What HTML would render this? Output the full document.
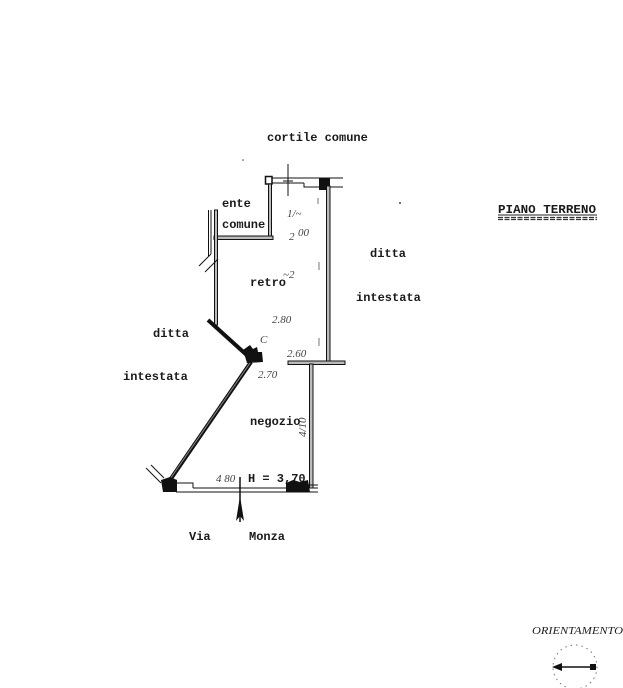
<!DOCTYPE html>
<html><head><meta charset="utf-8"><style>
html,body{margin:0;padding:0;background:#fff;}
svg{display:block;}
.t{font-family:"Liberation Mono",monospace;font-size:12px;font-weight:bold;fill:#1a1a1a;}
.h{font-family:"Liberation Serif",serif;font-style:italic;font-size:11px;fill:#444;}
</style></head><body>
<svg width="623" height="688" viewBox="0 0 623 688" xmlns="http://www.w3.org/2000/svg">
<rect width="623" height="688" fill="#fff"/>
<!-- labels -->
<text class="t" x="267" y="141">cortile comune</text>
<text class="t" x="222" y="207">ente</text>
<text class="t" x="222" y="228">comune</text>
<text class="t" x="250" y="286">retro</text>
<text class="t" x="370" y="257">ditta</text>
<text class="t" x="356" y="301">intestata</text>
<text class="t" x="153" y="337">ditta</text>
<text class="t" x="123" y="380">intestata</text>
<text class="t" x="250" y="425">negozio</text>
<text class="t" x="248" y="482">H = 3,70</text>
<text class="t" x="189" y="540">Via</text>
<text class="t" x="249" y="540">Monza</text>
<text class="t" x="498" y="213" textLength="98" lengthAdjust="spacingAndGlyphs">PIANO TERRENO</text>
<line x1="498" y1="215" x2="597" y2="215" stroke="#222" stroke-width="1"/>
<line x1="498" y1="217.5" x2="597" y2="217.5" stroke="#333" stroke-width="1.2" stroke-dasharray="5,1.5"/>
<line x1="498" y1="219.5" x2="597" y2="219.5" stroke="#333" stroke-width="1.2" stroke-dasharray="5,1.5"/>
<text x="532" y="634" font-family="Liberation Serif,serif" font-style="italic" font-size="10" fill="#222" textLength="91" lengthAdjust="spacingAndGlyphs">ORIENTAMENTO</text>

<!-- handwritten dims -->
<text class="h" x="289" y="240" font-size="13">2</text><text class="h" x="298" y="236" font-size="9">00</text>
<text class="h" x="287" y="217" font-size="9">1/~</text>
<text class="h" x="272" y="323">2.80</text>
<text class="h" x="287" y="357" font-size="12">2.60</text>
<text class="h" x="258" y="378">2.70</text>
<text class="h" x="216" y="482" font-size="12">4 80</text>
<text class="h" x="0" y="0" font-size="11" transform="translate(306,437) rotate(-90)">4/10</text>
<text class="h" x="283" y="278" font-size="9">~2</text>
<text class="h" x="260" y="343" font-size="9">C</text>
<line x1="318" y1="198" x2="318" y2="204" stroke="#777"/>
<line x1="319" y1="262" x2="319" y2="270" stroke="#777"/>
<line x1="319" y1="338" x2="319" y2="346" stroke="#777"/>
<circle cx="400" cy="203" r="1" fill="#444"/>
<circle cx="243" cy="160" r="0.8" fill="#444"/>

<g stroke="#111" fill="none" stroke-width="1">
<!-- top wall -->
<rect x="265.5" y="176.5" width="6.5" height="7.5" stroke-width="1.5" fill="#fff"/>
<line x1="272" y1="178" x2="343" y2="178"/>
<line x1="272" y1="183" x2="304" y2="183"/>
<polyline points="304,183 304,187 320,187"/>
<line x1="330" y1="187" x2="343" y2="187"/>
<line x1="288" y1="164" x2="288" y2="196"/>
<line x1="283" y1="181" x2="293" y2="181"/>
</g>
<rect x="319" y="178" width="11" height="12" fill="#111"/>

<!-- upper left room walls -->
<rect x="268.5" y="184" width="3" height="55" fill="#bbb" stroke="#111" stroke-width="1"/>
<rect x="214" y="236" width="59" height="3.5" fill="#bbb" stroke="#111" stroke-width="1"/>
<rect x="214.5" y="210" width="3" height="115" fill="#bbb" stroke="#111" stroke-width="1"/>
<line x1="208.5" y1="210" x2="208.5" y2="256" stroke="#111"/>
<line x1="211" y1="210" x2="211" y2="254" stroke="#111"/>
<line x1="199" y1="266" x2="211" y2="254" stroke="#111"/>
<line x1="205" y1="272" x2="218" y2="259" stroke="#111"/>

<!-- diagonal upper -->
<line x1="208" y1="320" x2="250" y2="358" stroke="#111" stroke-width="4"/>
<polygon points="243,350 250,345 253,349 257,347 258,352 262,352 263,362 247,363" fill="#111"/>
<!-- diagonal lower -->
<line x1="251" y1="362" x2="168" y2="483" stroke="#111" stroke-width="4"/>
<line x1="250" y1="363" x2="168" y2="482" stroke="#888" stroke-width="1"/>

<!-- right wall retro -->
<rect x="326.5" y="186" width="3.5" height="176" fill="#bbb" stroke="#111" stroke-width="1"/>
<rect x="288" y="361" width="57" height="3.5" fill="#bbb" stroke="#111" stroke-width="1"/>
<!-- right wall negozio -->
<rect x="309.5" y="364" width="3.5" height="124" fill="#bbb" stroke="#111" stroke-width="1"/>

<!-- bottom wall -->
<g stroke="#111" stroke-width="1" fill="none">
<line x1="193" y1="488" x2="318" y2="488"/>
<line x1="176" y1="492" x2="318" y2="492"/>
<polyline points="176,483 193,483 193,488"/>
<line x1="308" y1="485" x2="318" y2="485"/>
<line x1="146" y1="468" x2="161" y2="483"/>
<line x1="151" y1="465" x2="164" y2="478"/>
</g>
<polygon points="161,480 170,477 177,480 177,492 163,492" fill="#111"/>
<polygon points="286,483 293,480 300,482 308,480 310,492 286,492" fill="#111"/>

<!-- arrow -->
<line x1="240" y1="477" x2="240" y2="522" stroke="#111" stroke-width="1.5"/>
<polygon points="240,496 244,521 240,516 236,521" fill="#111"/>

<!-- compass -->
<circle cx="575" cy="667" r="22" fill="none" stroke="#777" stroke-width="1" stroke-dasharray="1.5,4"/>
<line x1="556" y1="667" x2="596" y2="667" stroke="#111" stroke-width="1.5"/>
<polygon points="552,667 562,663 562,671" fill="#111"/>
<rect x="590" y="664" width="6" height="6" fill="#111"/>
</svg>
</body></html>
